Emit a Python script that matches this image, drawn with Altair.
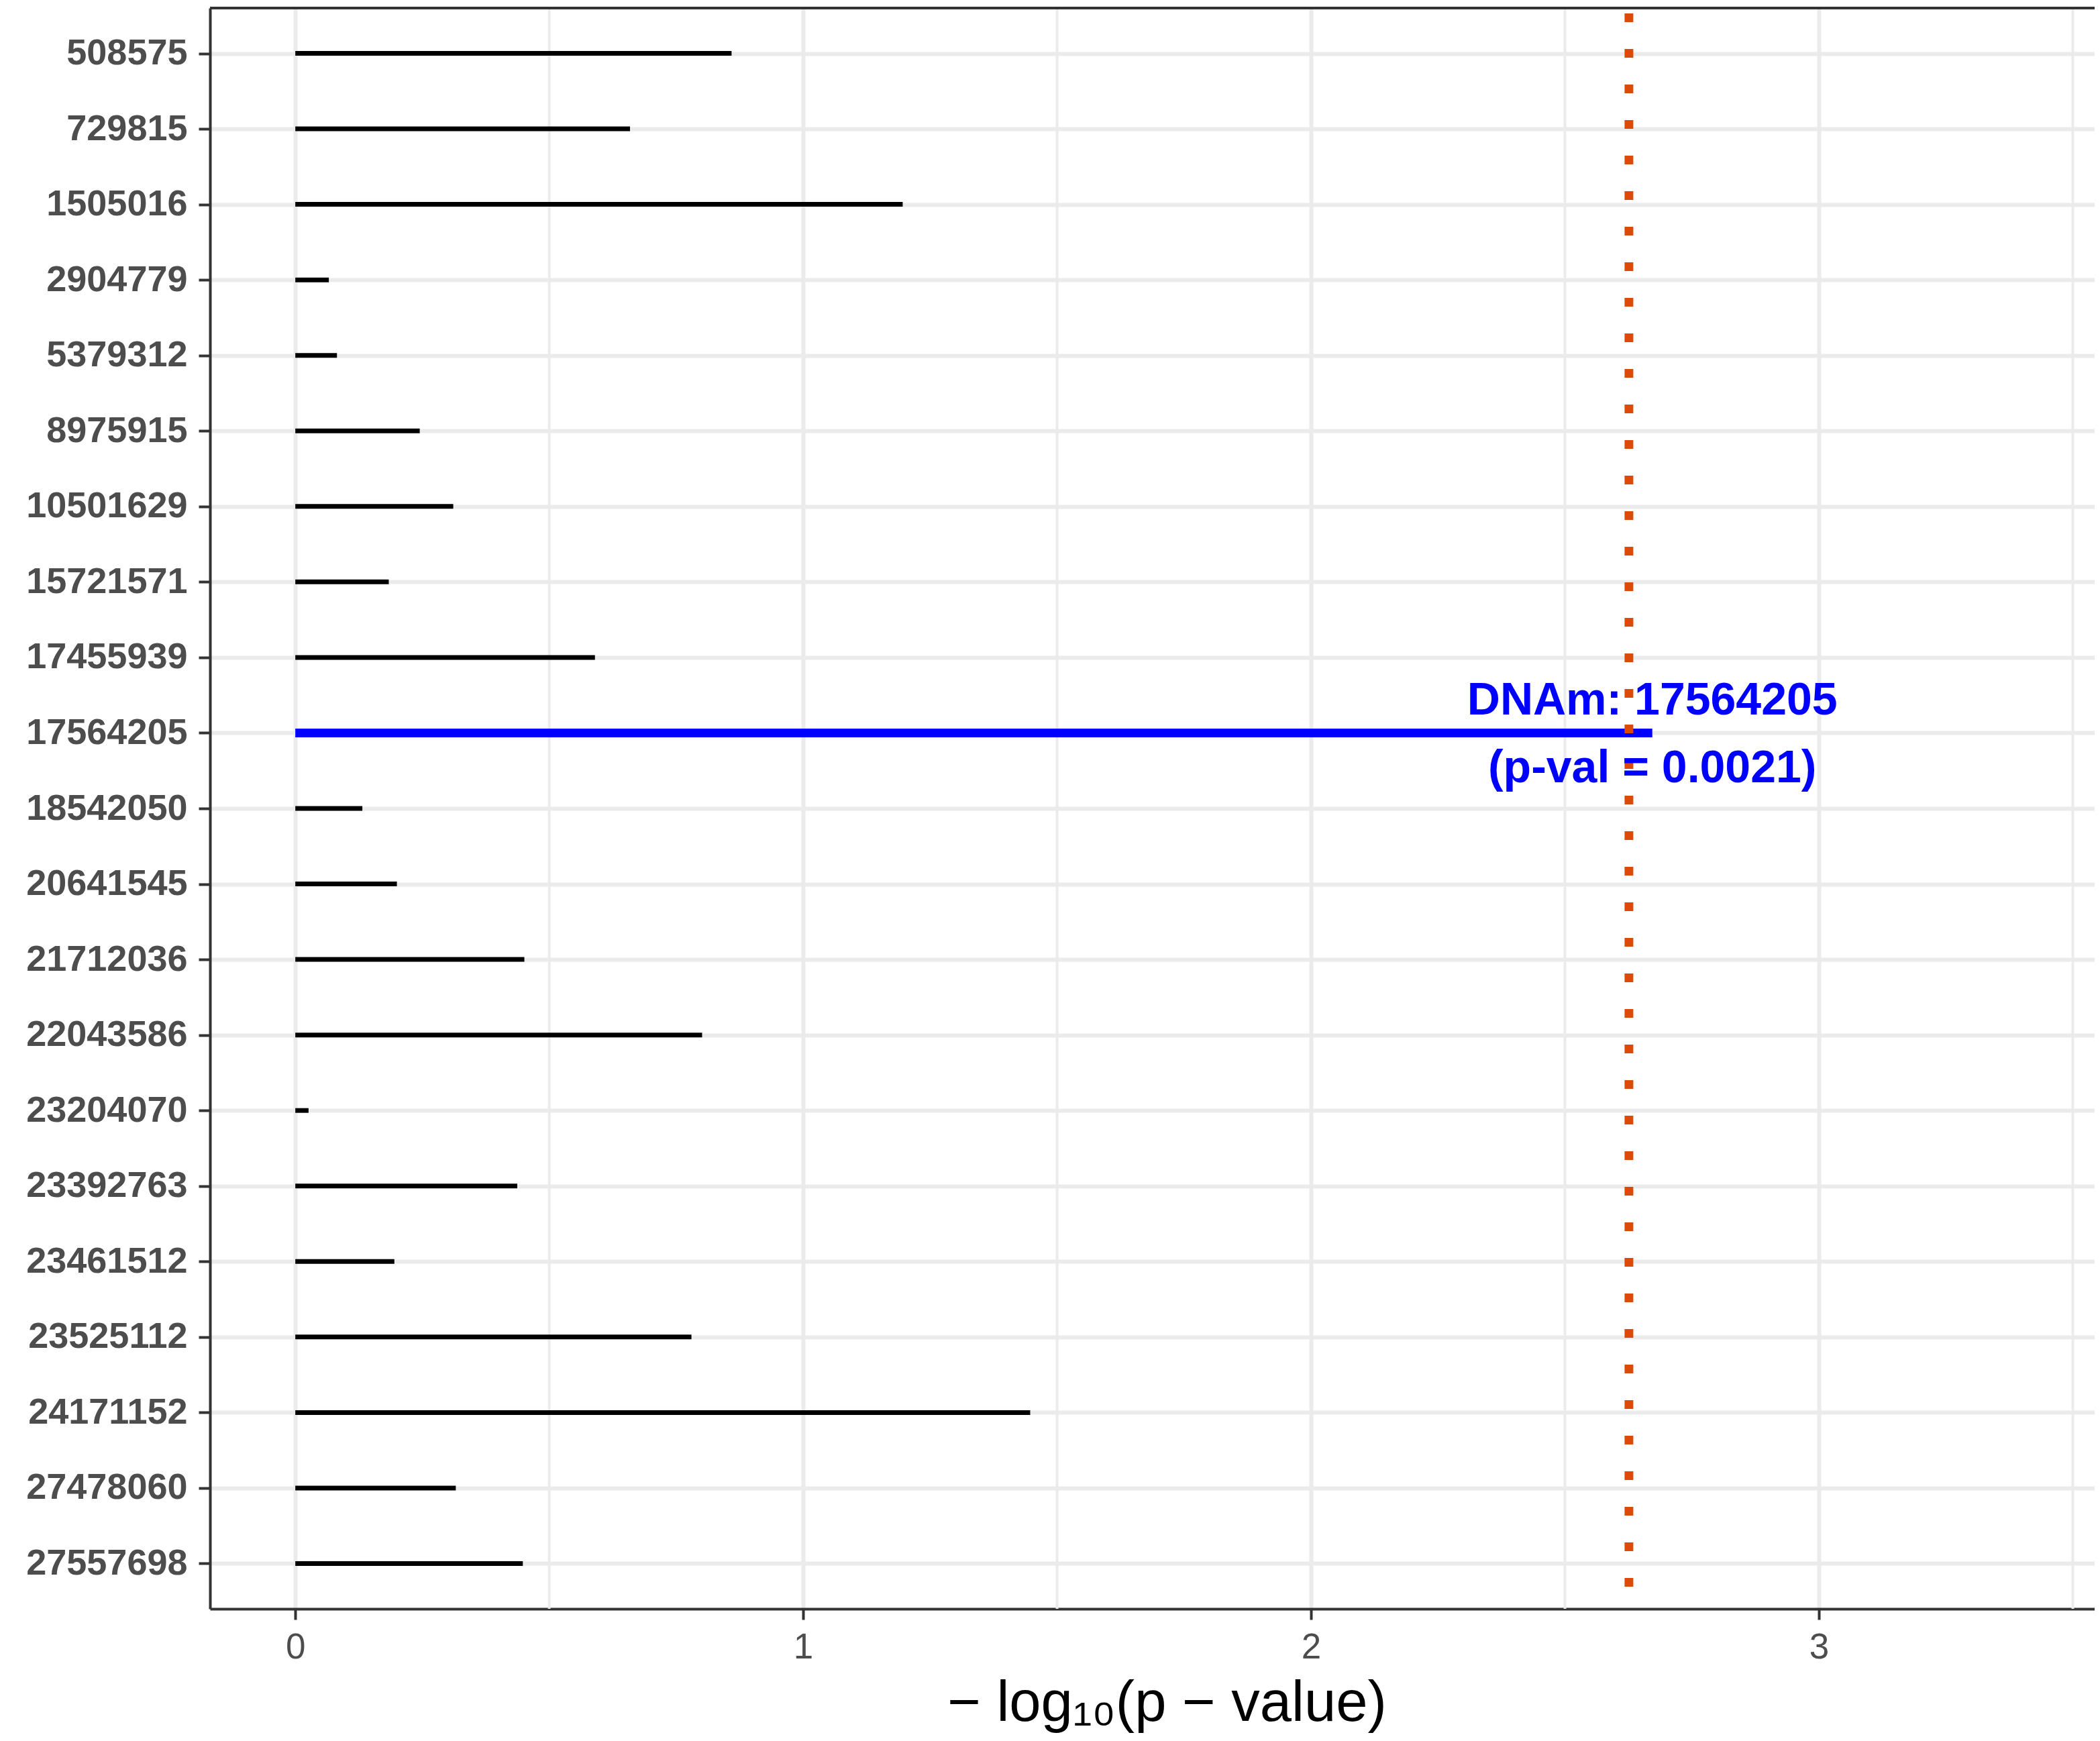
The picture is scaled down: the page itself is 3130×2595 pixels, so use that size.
import altair as alt
import pandas as pd

# ---- data ----
positions = ["508575", "729815", "1505016", "2904779", "5379312", "8975915",
             "10501629", "15721571", "17455939", "17564205", "18542050",
             "20641545", "21712036", "22043586", "23204070", "23392763",
             "23461512", "23525112", "24171152", "27478060", "27557698"]
neglog_p = [0.859, 0.659, 1.196, 0.066, 0.082, 0.245, 0.311, 0.184, 0.590,
            2.672, 0.132, 0.200, 0.451, 0.801, 0.026, 0.437, 0.195, 0.780,
            1.447, 0.316, 0.448]
highlight = "17564205"
highlight_label = "DNAm: 17564205\n(p-val = 0.0021)"
threshold = 2.626
minor_grid = [0.5, 1.5, 2.5, 3.5]
major_ticks = [0, 1, 2, 3]

df = pd.DataFrame({"pos": positions, "val": neglog_p, "zero": 0.0})
df_other = df[df["pos"] != highlight]
df_hi = df[df["pos"] == highlight].assign(label=highlight_label)
df_thr = pd.DataFrame({"thr": [threshold]})
df_minor = pd.DataFrame({"m": minor_grid})

W, H = 2809, 2386
FONT = "Liberation Sans"

xscale = alt.Scale(domain=[-0.168, 3.543], nice=False, zero=False)
yscale = alt.Scale(type="point", padding=0.6, domain=positions)

xaxis = alt.Axis(values=major_ticks, format="d", labelFontSize=53, labelColor="#4D4D4D",
                 labelFont=FONT, tickColor="#333333", tickWidth=4, tickSize=16,
                 labelPadding=15, domainColor="#333333", domainWidth=4,
                 grid=True, gridColor="#EBEBEB", gridWidth=6,
                 title="− log₁₀(p − value)", titleFont=FONT, titleFontSize=85,
                 titleFontWeight="normal", titleColor="#000000",
                 titleBaseline="alphabetic", titleX=1426, titleY=166, titleAlign="center")
yaxis = alt.Axis(labelFontSize=54, labelFontWeight="bold", labelColor="#4D4D4D",
                 labelFont=FONT, labelLimit=0, tickColor="#333333", tickWidth=4, tickSize=17,
                 labelPadding=17, domainColor="#333333", domainWidth=4,
                 grid=True, gridColor="#EBEBEB", gridWidth=6, title=None)

minor = alt.Chart(df_minor).mark_rule(color="#EBEBEB", strokeWidth=4).encode(
    x=alt.X("m:Q", scale=xscale, axis=xaxis)
)

segs = alt.Chart(df_other).mark_rule(color="#000000", strokeWidth=7).encode(
    x=alt.X("zero:Q", scale=xscale, axis=xaxis),
    x2="val:Q",
    y=alt.Y("pos:N", scale=yscale, sort=positions, axis=yaxis),
)

hi = alt.Chart(df_hi).mark_rule(color="#0000FF", strokeWidth=13).encode(
    x=alt.X("zero:Q", scale=xscale),
    x2="val:Q",
    y=alt.Y("pos:N", scale=yscale, sort=positions),
)

thr = alt.Chart(df_thr).mark_rule(color="#DB4A08", strokeWidth=13,
                                  strokeDash=[13, 40], strokeCap="butt",
                                  strokeDashOffset=-8).encode(
    x=alt.X("thr:Q", scale=xscale)
)

txt = alt.Chart(df_hi).mark_text(color="#0000FF", fontSize=68, fontWeight="bold",
                                 font=FONT, lineBreak="\n", lineHeight=101, dy=-47,
                                 align="center", baseline="middle").encode(
    x=alt.X("val:Q", scale=xscale),
    y=alt.Y("pos:N", scale=yscale, sort=positions),
    text="label:N",
)

top_border = alt.Chart(df_thr).mark_rule(color="#333333", strokeWidth=4).encode(
    x=alt.value(0), x2=alt.value(W + 10), y=alt.value(0)
)

chart = alt.layer(minor, segs, hi, thr, txt, top_border).properties(
    width=W, height=H,
    padding={"left": 305, "top": 4, "right": 0, "bottom": 188},
    autosize=alt.AutoSizeParams(type="none"),
    background="#FFFFFF",
).configure_view(stroke=None)

chart.save("out.html", embed_options={"renderer": "svg", "actions": False})
